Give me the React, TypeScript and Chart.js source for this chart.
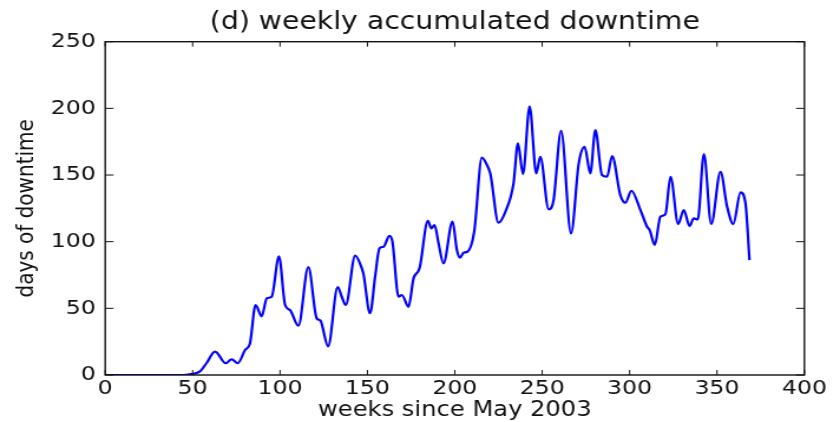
import { useEffect, useRef } from "react";
import { Chart, registerables } from "chart.js";

Chart.register(...registerables);

// ---- data ----
const weeks = [
  0, 45, 50, 54, 58, 62.8, 69, 72.3, 75.8, 80, 82.8, 86, 89.5, 92.4, 95.2, 99.4,
  102.9, 105.7, 110.5, 116.2, 121, 123, 127.5, 133, 135.3, 137.6, 143, 146.8,
  147.7, 151.5, 154.4, 156.9, 159.2, 162.6, 164.3, 167.8, 169.7, 173.5, 176.4,
  179.8, 184.6, 186.5, 188.4, 190.7, 193.5, 198.7, 201.2, 203, 205, 207.3,
  211.1, 215.5, 218.4, 220.3, 225, 228.9, 233.6, 236.1, 239, 242.8, 246.6,
  248.9, 253.7, 256.5, 260.8, 266.5, 270.9, 274.3, 277.5, 280.4, 284.2, 287.1,
  290, 294.7, 297.6, 301, 306.2, 310, 311.5, 314.4, 317.6, 320.5, 323.4, 327.8,
  331, 334.3, 336.7, 339, 342.5, 346.7, 352, 355.8, 359.3, 363.5, 366.3, 368.6,
];
const downtimeDays = [
  0, 0, 0.8, 2.5, 9, 17.5, 8.8, 11.8, 8.8, 18.7, 23.7, 52.5, 44, 57.5, 58.7, 89,
  52.5, 48.7, 37, 81, 42.5, 41, 21.5, 66, 58.7, 52.5, 89.5, 80,
  76, 46.3, 73.7, 95, 96.2, 104.4, 100, 58.7, 60, 51.2, 72.5,
  80, 115.7, 110, 112.5, 98.7, 83.7, 115, 93.7, 88, 91.7, 92.5,
  107.5, 163, 157.5, 151.2, 114.2, 122.4, 143.7, 173.7, 150.7, 201.6, 151.2,
  163.6, 124.2, 131.2, 183.1, 106.2, 158.7, 171.1, 151.2, 183.6, 150, 148.7,
  164.2, 134.9, 129.2, 138.2, 123.7, 111.2, 108.7, 97.5, 118.7, 120.7, 148.7, 113.2,
  123.7, 111.7, 117.5, 116.7, 165.7, 113.2, 152.4, 126.2, 113.2, 137, 128.7, 86.2,
];
const xTickValues = [0, 50, 100, 150, 200, 250, 300, 350, 400];
const yTickValues = [0, 50, 100, 150, 200, 250];
const titleText = "(d) weekly accumulated downtime";
const xAxisLabel = "weeks since May 2003";
const yAxisLabel = "days of downtime";

// ---- layout ----
const DISPLAY_W = 840;
const DISPLAY_H = 422;
const STRETCH = 1.18; // reference is horizontally stretched
const CANVAS_W = Math.round(DISPLAY_W / STRETCH);
const FONT = '"DejaVu Sans", "Liberation Sans", sans-serif';

const framePlugin = {
  id: "mplFrame",
  afterDatasetsDraw(chart: any) {
    const { ctx, chartArea: a, scales } = chart;
    ctx.save();
    ctx.strokeStyle = "#111";
    ctx.lineWidth = 1;
    ctx.beginPath();
    for (const t of scales.x.ticks) {
      const px = scales.x.getPixelForValue(t.value);
      ctx.moveTo(px, a.bottom);
      ctx.lineTo(px, a.bottom - 5);
      ctx.moveTo(px, a.top);
      ctx.lineTo(px, a.top + 5);
    }
    for (const t of scales.y.ticks) {
      const py = scales.y.getPixelForValue(t.value);
      ctx.moveTo(a.left, py);
      ctx.lineTo(a.left + 7, py);
      ctx.moveTo(a.right, py);
      ctx.lineTo(a.right - 7, py);
    }
    ctx.stroke();
    ctx.lineWidth = 1.4;
    ctx.strokeRect(a.left, a.top, a.right - a.left, a.bottom - a.top);
    ctx.restore();
  },
  afterDraw(chart: any) {
    const { ctx, chartArea: a } = chart;
    ctx.save();
    ctx.fillStyle = "#111";
    ctx.font = `24px ${FONT}`;
    ctx.textAlign = "center";
    ctx.textBaseline = "alphabetic";
    ctx.fillText(titleText, (a.left + a.right) / 2, 29);
    ctx.restore();
  },
};

export default function App() {
  const canvasRef = useRef<HTMLCanvasElement | null>(null);

  useEffect(() => {
    const canvas = canvasRef.current;
    if (!canvas) return;
    const points = weeks.map((w, i) => ({ x: w, y: downtimeDays[i] }));
    const chart = new Chart(canvas, {
      type: "line",
      data: {
        datasets: [
          {
            data: points,
            borderColor: "#0000ff",
            borderWidth: 2.2,
            pointRadius: 0,
            fill: false,
            cubicInterpolationMode: "monotone",
          },
        ],
      },
      options: {
        responsive: false,
        animation: false,
        devicePixelRatio: 1,
        events: [],
        layout: { padding: { top: 41.7, right: 30.2, bottom: 0, left: 0 } },
        plugins: {
          legend: { display: false },
          tooltip: { enabled: false },
          title: { display: false },
        },
        scales: {
          x: {
            type: "linear",
            min: 0,
            max: 400,
            afterBuildTicks: (s: any) => {
              s.ticks = xTickValues.map((v) => ({ value: v }));
            },
            afterFit: (s: any) => {
              s.height = 47;
            },
            grid: { display: false, drawTicks: false },
            border: { display: false },
            ticks: {
              color: "#111",
              padding: 2,
              maxRotation: 0,
              autoSkip: false,
              font: { family: FONT, size: 20 },
            },
            title: {
              display: true,
              text: xAxisLabel,
              color: "#111",
              font: { family: FONT, size: 20.5, lineHeight: 1.0 },
              padding: { top: 0, bottom: 1.2 },
            },
          },
          y: {
            type: "linear",
            min: 0,
            max: 250,
            afterBuildTicks: (s: any) => {
              s.ticks = yTickValues.map((v) => ({ value: v }));
            },
            afterFit: (s: any) => {
              s.width = 89.2;
            },
            grid: { display: false, drawTicks: false },
            border: { display: false },
            ticks: {
              color: "#111",
              padding: 8,
              autoSkip: false,
              font: { family: FONT, size: 20 },
            },
            title: {
              display: true,
              text: yAxisLabel,
              color: "#111",
              font: { family: FONT, size: 20, lineHeight: 1.2 },
              padding: { top: 11, bottom: 0 },
            },
          },
        },
      },
      plugins: [framePlugin],
    } as any);
    return () => chart.destroy();
  }, []);

  return (
    <div style={{ position: "absolute", left: 0, top: 0, background: "#fff" }}>
      <canvas
        ref={canvasRef}
        width={CANVAS_W}
        height={DISPLAY_H}
        style={{ width: `${DISPLAY_W}px`, height: `${DISPLAY_H}px`, display: "block" }}
      />
    </div>
  );
}
